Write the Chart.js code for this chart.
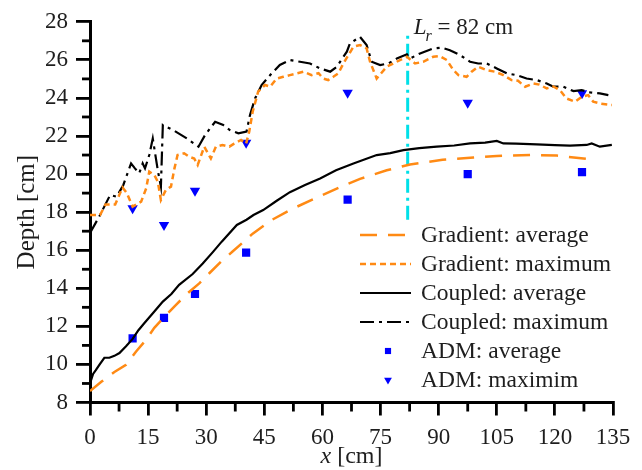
<!DOCTYPE html>
<html>
<head>
<meta charset="utf-8">
<script src="https://cdn.jsdelivr.net/npm/chart.js@4.4.1/dist/chart.umd.min.js"></script>
<style>
  html, body { margin: 0; padding: 0; background: #fff; }
</style>
</head>
<body>
<canvas id="c" width="642" height="470"></canvas>
<script>
// values
const gradAvgX = [0, 3, 6.3, 9.3, 11.9, 14.5, 16.6, 19.2, 22.2, 25, 28.2, 30.8, 33.8, 36.8, 42, 47, 52.5, 60, 65, 69.7, 76.6, 82.6, 91, 99, 105, 113.6, 120.5, 128]
const gradAvgY = [8.6, 9.1, 9.6, 9.98, 10.68, 11.3, 11.92, 12.5, 13.13, 13.7, 14.26, 14.79, 15.4, 15.93, 16.87, 17.6, 18.2, 18.9, 19.35, 19.75, 20.2, 20.5, 20.75, 20.87, 20.95, 21.0, 20.97, 20.8]

const gradMaxX = [0, 2.6, 4, 6.5, 8.4, 9.5, 11, 13.2, 14.5, 15.3, 16.6, 17.5, 18.3, 19.6, 20.9, 21.8, 22.6, 24.3, 25.6, 26.9, 27.8, 29.5, 31.2, 32.5, 34.2, 36, 37.2, 39, 40.3, 41.1, 42, 43.4, 45.2, 46.5, 48.2, 49.9, 51.6, 53.4, 55.1, 57.2, 59, 60.2, 61.5, 62.8, 64.1, 65.4, 66.7, 68, 69.7, 71.4, 72.3, 74, 76.6, 78.3, 80, 81.8, 83.9, 86, 88.6, 90.3, 92.1, 93.8, 95.1, 97.2, 98.5, 100.2, 102.4, 104.5, 106.7, 108.8, 110.5, 112.3, 114.4, 116, 117.9, 119.6, 121.3, 123, 125.2, 126.9, 128.6, 129.9, 131.6, 134.7]
const gradMaxY = [17.85, 17.85, 18.4, 18.4, 19.3, 19.0, 18.29, 18.55, 19.25, 20.13, 19.95, 19.6, 18.64, 19.17, 19.34, 20.3, 21.0, 21.09, 20.91, 20.82, 20.48, 21.44, 20.82, 21.44, 21.53, 21.44, 21.6, 21.79, 21.6, 22.23, 23.28, 24.33, 24.68, 24.59, 25.02, 25.11, 25.2, 25.29, 25.38, 25.2, 25.3, 25.02, 24.94, 25.11, 25.29, 25.81, 26.25, 26.69, 26.78, 26.6, 25.9, 25.02, 25.64, 25.81, 25.99, 26.16, 25.81, 25.9, 26.16, 26.2, 25.99, 25.46, 25.2, 25.11, 25.38, 25.64, 25.46, 25.38, 25.2, 24.94, 24.9, 24.59, 24.76, 24.7, 24.5, 24.6, 24.41, 23.97, 23.8, 24.06, 24.15, 23.8, 23.71, 23.63]

const coupAvgX = [0, 0.8, 1.5, 2.5, 3.7, 5, 6.3, 7.6, 9.3, 11, 12.5, 14, 16.5, 18.8, 21, 23, 26.5, 29.1, 31.7, 34, 37.9, 40.4, 42.2, 44.7, 48.2, 51.6, 55.5, 59.4, 63.5, 68, 74, 77.5, 80.9, 85, 89.5, 94, 98.1, 102, 105, 106.7, 110, 115.3, 120, 123.9, 128.2, 129.5, 131.6, 134.7]
const coupAvgY = [9.0, 9.5, 9.7, 10.0, 10.35, 10.35, 10.45, 10.6, 10.95, 11.34, 11.8, 12.16, 12.75, 13.3, 13.7, 14.18, 14.75, 15.3, 15.9, 16.45, 17.33, 17.6, 17.85, 18.11, 18.6, 19.05, 19.42, 19.77, 20.2, 20.56, 21.0, 21.1, 21.26, 21.36, 21.44, 21.5, 21.61, 21.65, 21.74, 21.61, 21.6, 21.56, 21.52, 21.49, 21.53, 21.61, 21.44, 21.53]

const coupMaxX = [0, 2.6, 5.2, 6.9, 8.6, 10.6, 11.6, 12.7, 13.6, 14.2, 15.3, 16.2, 17.5, 18.3, 18.8, 21.5, 25, 28, 29.7, 32.3, 34.4, 36.1, 38.3, 40.4, 41.3, 42.6, 44.3, 46.9, 49, 51.6, 54.2, 56.8, 59.4, 62, 63.7, 66.3, 67.1, 69.7, 71.4, 72.7, 74.9, 77, 79.2, 81.8, 82.6, 85.2, 88.6, 90.8, 92.9, 95.5, 98.1, 100.2, 102.4, 105, 107.6, 110.1, 112.7, 115.3, 117.9, 119.6, 122.2, 124.8, 126.9, 129.1, 131.6, 133.8]
const coupMaxY = [16.9, 17.85, 18.9, 18.81, 19.43, 20.56, 20.3, 20.04, 20.56, 20.3, 21.0, 21.87, 20.2, 19.34, 22.58, 22.31, 21.87, 21.44, 22.05, 22.75, 22.58, 22.31, 22.14, 22.23, 23.1, 23.97, 24.68, 25.29, 25.73, 25.99, 25.9, 25.81, 25.55, 25.38, 25.64, 26.43, 26.86, 27.21, 26.78, 25.9, 25.73, 25.81, 26.07, 26.29, 26.07, 26.34, 26.6, 26.64, 26.51, 26.25, 25.9, 25.81, 25.81, 25.55, 25.29, 25.2, 25.02, 24.94, 24.76, 24.59, 24.59, 24.36, 24.41, 24.29, 24.24, 24.15]

const admX = [11, 19.1, 27.1, 40.3, 66.5, 97.5, 127]
const admAvgY = [11.37, 12.45, 13.7, 15.87, 18.66, 20.0, 20.1]
const admMaxY = [18.2, 17.33, 19.13, 21.65, 24.27, 23.75, 24.24]

const lrX = [82, 82]
const lrY = [17.6, 27.3]

const labels = ['Gradient: average', 'Gradient: maximum', 'Coupled: average', 'Coupled: maximum', 'ADM: average', 'ADM: maximim']

const pts = ( xs, ys ) => xs.map( ( x, i ) => ( { x, y: ys[ i ] } ) )

const ORANGE = '#ff8a14'
const BLUE = '#0000ff'
const FONT = 'Liberation Serif'
const TEXT = '#1e1e1e'

const line = ( label, data, color, width, dash ) => ( {
  label, data, showLine: true, borderColor: color, borderWidth: width,
  borderDash: dash, pointRadius: 0, fill: false, tension: 0
} )

// minor ticks, legend inside the plot, L_r label, x title
const extras = {
  id: 'extras',
  afterDraw( chart ) {
    const { ctx, chartArea: a } = chart
    const sx = chart.scales.x, sy = chart.scales.y
    ctx.save()
    ctx.strokeStyle = '#000'
    ctx.lineWidth = 2.8
    ctx.setLineDash( [] )
    for ( let v = 9; v < 28; v += 2 ) {
      const py = sy.getPixelForValue( v )
      ctx.beginPath(); ctx.moveTo( a.left - 8, py ); ctx.lineTo( a.left, py ); ctx.stroke()
    }
    for ( let v = 7.5; v < 135; v += 15 ) {
      const px = sx.getPixelForValue( v )
      ctx.beginPath(); ctx.moveTo( px, a.bottom ); ctx.lineTo( px, a.bottom + 9 ); ctx.stroke()
    }

    // legend
    ctx.font = `23.5px "${FONT}"`
    ctx.textBaseline = 'middle'
    chart.data.datasets.slice( 0, 6 ).forEach( ( ds, i ) => {
      const yy = 235 + i * 29
      if ( ds.showLine ) {
        ctx.strokeStyle = ds.borderColor
        ctx.lineWidth = ds.borderWidth
        ctx.setLineDash( ds.borderDash || [] )
        ctx.beginPath(); ctx.moveTo( 360, yy ); ctx.lineTo( 411, yy ); ctx.stroke()
        ctx.setLineDash( [] )
      } else {
        ctx.fillStyle = ds.pointBackgroundColor
        Chart.helpers.drawPoint( ctx, { pointStyle: ds.pointStyle, radius: ds.pointRadius * 0.75, rotation: ds.pointRotation || 0, borderWidth: 0 }, 388, yy )
      }
      ctx.fillStyle = TEXT
      ctx.fillText( ds.label, 421, yy + 1 )
    } )

    // L_r = 82 cm
    const lx = sx.getPixelForValue( 82 ) + 6
    ctx.textBaseline = 'alphabetic'
    ctx.font = `italic 23px "${FONT}"`
    ctx.fillText( 'L', lx, 34 )
    const lw = ctx.measureText( 'L' ).width
    ctx.font = `italic 16px "${FONT}"`
    ctx.fillText( 'r', lx + lw - 1, 41 )
    ctx.font = `23px "${FONT}"`
    ctx.fillText( '= 82 cm', lx + lw + 11, 34 )

    // x title
    ctx.font = `italic 24px "${FONT}"`
    const w1 = ctx.measureText( 'x' ).width
    ctx.font = `24px "${FONT}"`
    const w2 = ctx.measureText( ' [cm]' ).width
    const cx = ( a.left + a.right ) / 2 - ( w1 + w2 ) / 2
    ctx.font = `italic 24px "${FONT}"`
    ctx.fillText( 'x', cx, 463 )
    ctx.font = `24px "${FONT}"`
    ctx.fillText( ' [cm]', cx + w1, 463 )
    ctx.restore()
  }
}

new Chart( document.getElementById( 'c' ), {
  type: 'scatter',
  data: {
    datasets: [
      line( labels[ 0 ], pts( gradAvgX, gradAvgY ), ORANGE, 2.5, [ 17, 11 ] ),
      line( labels[ 1 ], pts( gradMaxX, gradMaxY ), ORANGE, 2.5, [ 6, 4 ] ),
      line( labels[ 2 ], pts( coupAvgX, coupAvgY ), '#000', 2.2, [] ),
      line( labels[ 3 ], pts( coupMaxX, coupMaxY ), '#000', 2.2, [ 14, 5, 3, 5 ] ),
      {
        label: labels[ 4 ], data: pts( admX, admAvgY ), showLine: false,
        pointStyle: 'rect', pointRadius: 5.8, pointBackgroundColor: BLUE, pointBorderWidth: 0
      },
      {
        label: labels[ 5 ], data: pts( admX, admMaxY ), showLine: false,
        pointStyle: 'triangle', pointRotation: 180, pointRadius: 6, pointBackgroundColor: BLUE, pointBorderWidth: 0
      },
      line( 'Lr', pts( lrX, lrY ), '#00e0e8', 3, [ 14, 5, 3, 5 ] )
    ]
  },
  options: {
    responsive: false,
    animation: false,
    devicePixelRatio: 1,
    layout: { padding: { top: 21, right: 29, bottom: 0, left: 0 } },
    plugins: { legend: { display: false }, tooltip: { enabled: false } },
    scales: {
      x: {
        type: 'linear', min: 0, max: 135,
        ticks: { stepSize: 15, color: TEXT, font: { family: FONT, size: 23, lineHeight: 1 }, padding: 11, maxRotation: 0, autoSkip: false },
        grid: { display: true, drawOnChartArea: false, drawTicks: true, tickLength: 13, color: '#000', lineWidth: 2.8 },
        border: { display: true, color: '#000', width: 3 },
        afterFit( s ) { s.height = 67.5 }
      },
      y: {
        min: 8, max: 28,
        ticks: { stepSize: 2, color: TEXT, font: { family: FONT, size: 23 }, padding: 8 },
        grid: { display: true, drawOnChartArea: false, drawTicks: true, tickLength: 14, color: '#000', lineWidth: 2.8 },
        border: { display: true, color: '#000', width: 3 },
        title: { display: true, text: 'Depth [cm]', color: TEXT, font: { family: FONT, size: 25 }, padding: { top: 12, bottom: 0 } },
        afterFit( s ) { s.width = 90 }
      }
    }
  },
  plugins: [ extras ]
} )
</script>
</body>
</html>
